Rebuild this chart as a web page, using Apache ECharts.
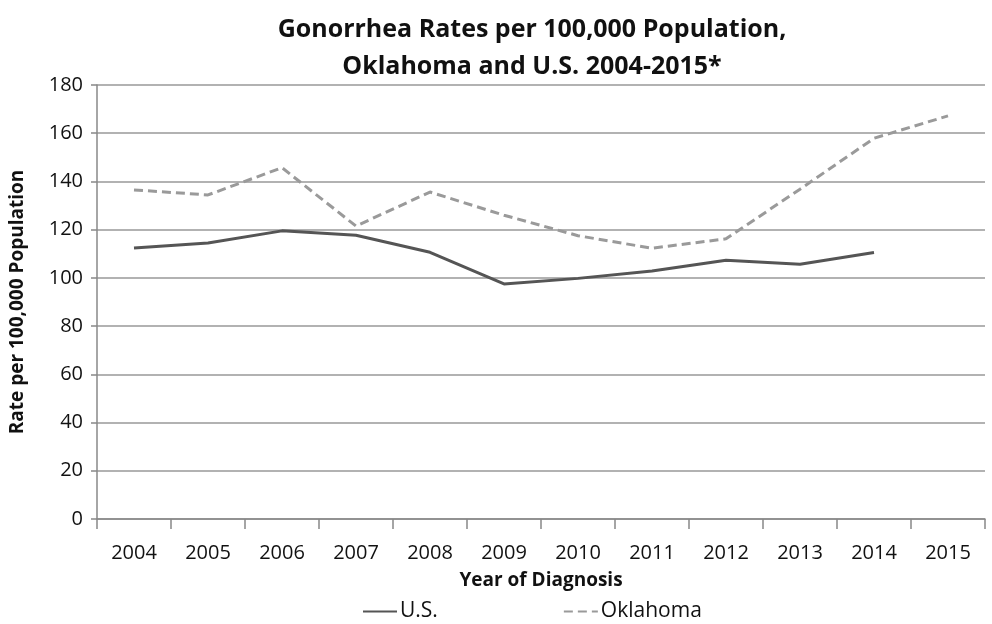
<!DOCTYPE html>
<html>
<head>
<meta charset="utf-8">
<script src="https://cdn.jsdelivr.net/npm/echarts@6/dist/echarts.min.js"></script>
<style>
  html, body { margin: 0; padding: 0; background: #fff; }
  #chart { width: 992px; height: 624px; }
</style>
</head>
<body>
<div id="chart"></div>
<script>
// Gonorrhea rates per 100,000 population by year of diagnosis
const years = ['2004', '2005', '2006', '2007', '2008', '2009', '2010', '2011', '2012', '2013', '2014', '2015'];
const usRates = [112.4, 114.5, 119.5, 117.7, 110.6, 97.5, 99.8, 102.9, 107.3, 105.7, 110.5, null];
const oklahomaRates = [136.5, 134.4, 145.7, 121.5, 135.6, 126.0, 117.5, 112.3, 116.2, 136.8, 157.9, 167.2];
const yTicks = { min: 0, max: 180, interval: 20 };

const FONT = '"Open Sans", "Noto Sans", sans-serif';
const US_COLOR = '#555555';
const OK_COLOR = '#9a9a9a';
const DASH = [9, 5];

const chart = echarts.init(document.getElementById('chart'), null, { renderer: 'canvas' });
chart.setOption({
  animation: false,
  backgroundColor: '#ffffff',
  title: {
    text: 'Gonorrhea Rates per 100,000 Population,\nOklahoma and U.S. 2004-2015*',
    left: 527,
    textAlign: 'center',
    top: 6,
    textStyle: { fontFamily: FONT, fontSize: 25, fontWeight: 'bold', color: '#111', lineHeight: 37 }
  },
  legend: {
    show: true,
    orient: 'horizontal',
    bottom: -3,
    left: 357,
    itemGap: 125,
    itemWidth: 34,
    itemHeight: 14,
    itemStyle: { opacity: 0 },
    textStyle: { fontFamily: FONT, fontSize: 21, color: '#111', padding: [0, 0, 0, -2] },
    data: ['U.S.', 'Oklahoma']
  },
  grid: { left: 97, right: 7, top: 85, bottom: 105 },
  xAxis: {
    type: 'category',
    data: years,
    boundaryGap: true,
    name: 'Year of Diagnosis',
    nameLocation: 'middle',
    nameGap: 52,
    nameTextStyle: { fontFamily: FONT, fontSize: 19, fontWeight: 'bold', color: '#111' },
    axisLine: { lineStyle: { color: '#888', width: 1.5 } },
    axisTick: { show: true, length: 10, lineStyle: { color: '#888', width: 1.5 } },
    axisLabel: { fontFamily: FONT, fontSize: 20, color: '#111', margin: 24 }
  },
  yAxis: {
    type: 'value',
    min: yTicks.min,
    max: yTicks.max,
    interval: yTicks.interval,
    name: 'Rate per 100,000 Population',
    nameLocation: 'middle',
    nameGap: 70,
    nameTextStyle: { fontFamily: FONT, fontSize: 19, fontWeight: 'bold', color: '#111' },
    axisLine: { show: true, lineStyle: { color: '#888', width: 1.5 } },
    axisTick: { show: true, length: 6, lineStyle: { color: '#888', width: 1.5 } },
    axisLabel: { fontFamily: FONT, fontSize: 20, color: '#111', margin: 14 },
    splitLine: { lineStyle: { color: '#999', width: 1.5 } }
  },
  series: [
    {
      name: 'U.S.',
      type: 'line',
      data: usRates,
      symbol: 'none',
      lineStyle: { color: US_COLOR, width: 3 },
      itemStyle: { color: US_COLOR }
    },
    {
      name: 'Oklahoma',
      type: 'line',
      data: oklahomaRates,
      symbol: 'none',
      lineStyle: { color: OK_COLOR, width: 3, type: DASH },
      itemStyle: { color: OK_COLOR }
    }
  ]
});
</script>
</body>
</html>
